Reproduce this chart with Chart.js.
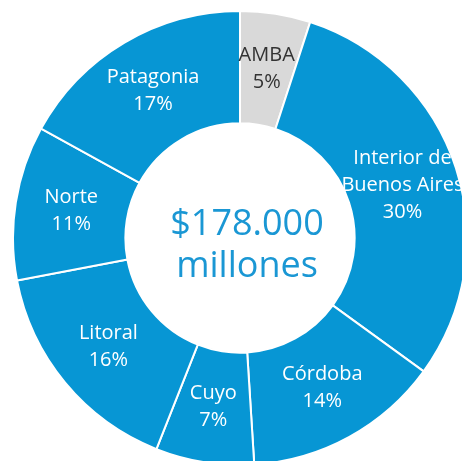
<!DOCTYPE html>
<html>
<head>
<meta charset="utf-8">
<script src="https://cdn.jsdelivr.net/npm/chart.js@4"></script>
<style>
  html, body { margin: 0; padding: 0; background: #fff; overflow: hidden; width: 462px; height: 461px; }
  #chart { position: absolute; left: 12px; top: 10px; }
</style>
</head>
<body>
<canvas id="chart" width="456" height="456"></canvas>
<script>
// regiones (en orden horario desde arriba)
const regions = ['AMBA', ['Interior de', 'Buenos Aires'], 'Córdoba', 'Cuyo', 'Litoral', 'Norte', 'Patagonia'];
const shares = [5, 30, 14, 7, 16, 11, 17];
const sliceColors = ['#d9d9d9', '#0796d4', '#0796d4', '#0796d4', '#0796d4', '#0796d4', '#0796d4'];
const labelColors = ['#333333', '#ffffff', '#ffffff', '#ffffff', '#ffffff', '#ffffff', '#ffffff'];
const centerLines = ['$178.000', 'millones'];

// etiquetas dentro de cada porción
const sliceLabels = {
  id: 'sliceLabels',
  afterDatasetsDraw(chart) {
    const ctx = chart.ctx;
    const meta = chart.getDatasetMeta(0);
    ctx.save();
    ctx.font = '20px "Open Sans", sans-serif';
    ctx.textAlign = 'center';
    ctx.textBaseline = 'middle';
    meta.data.forEach((arc, i) => {
      const pos = arc.tooltipPosition(false);
      const name = [].concat(regions[i]);
      const lines = name.concat(shares[i] + '%');
      const lh = 27;
      const y0 = pos.y - (lines.length - 1) * lh / 2;
      ctx.fillStyle = labelColors[i];
      lines.forEach((t, k) => ctx.fillText(t, pos.x, y0 + k * lh));
    });
    ctx.restore();
  }
};

// texto central
const centerText = {
  id: 'centerText',
  afterDraw(chart) {
    const ctx = chart.ctx;
    const arc = chart.getDatasetMeta(0).data[0];
    ctx.save();
    ctx.font = '36px "Open Sans", sans-serif';
    ctx.fillStyle = '#1a97d4';
    ctx.textAlign = 'center';
    ctx.textBaseline = 'alphabetic';
    ctx.fillText(centerLines[0], arc.x + 7, arc.y - 3);
    ctx.fillText(centerLines[1], arc.x + 7, arc.y + 39);
    ctx.restore();
  }
};

new Chart(document.getElementById('chart'), {
  type: 'doughnut',
  data: {
    labels: regions,
    datasets: [{
      data: shares,
      backgroundColor: sliceColors,
      borderColor: '#ffffff',
      borderWidth: 2
    }]
  },
  options: {
    responsive: false,
    animation: false,
    cutout: '50.5%',
    layout: { padding: 0 },
    events: [],
    plugins: {
      legend: { display: false },
      tooltip: { enabled: false }
    }
  },
  plugins: [sliceLabels, centerText]
});
</script>
</body>
</html>
